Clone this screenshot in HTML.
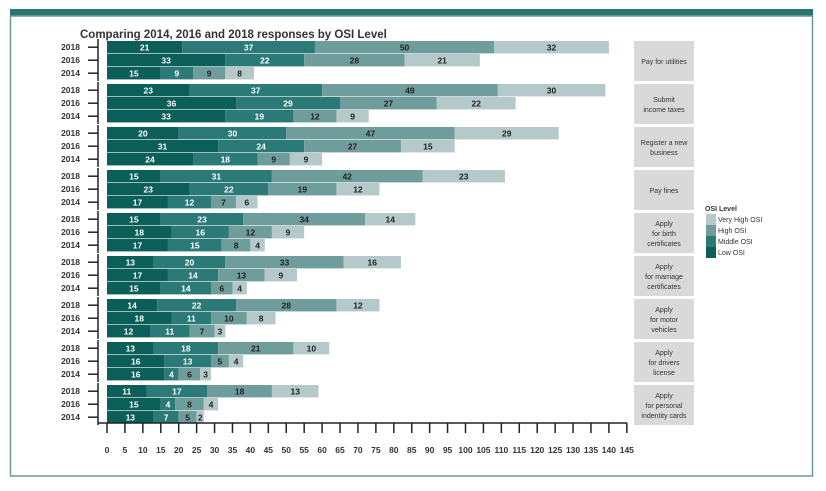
<!DOCTYPE html>
<html><head><meta charset="utf-8"><style>
body{margin:0;background:#fff;font-family:"Liberation Sans",sans-serif;}
svg text{font-family:"Liberation Sans",sans-serif;}
</style></head><body>
<svg width="826" height="486" viewBox="0 0 826 486">
<rect x="10" y="9" width="803" height="7" fill="#2a7470"/>
<rect x="10.5" y="16" width="802" height="460" fill="none" stroke="#6e9896" stroke-width="1.5"/>
<text x="80" y="38" font-size="11.5" font-weight="bold" fill="#333">Comparing 2014, 2016 and 2018 responses by OSI Level</text>
<g id="plot"></g>
<g id="legend">
<text x="705" y="211" font-size="7" font-weight="bold" fill="#333">OSI Level</text>
</g>
</svg>
<script>
const services=["Pay for utilities","Submit|income taxes","Register a new|business","Pay fines","Apply|for birth|certificates","Apply|for marriage|certificates","Apply|for motor|vehicles","Apply|for drivers|license","Apply|for personal|indentity cards"];
const years=["2018","2016","2014"];
const levels=["Low OSI","Middle OSI","High OSI","Very High OSI"];
const low=[[21,33,15],[23,36,33],[20,31,24],[15,23,17],[15,18,17],[13,17,15],[14,18,12],[13,16,16],[11,15,13]];
const mid=[[37,22,9],[37,29,19],[30,24,18],[31,22,12],[23,16,15],[20,14,14],[22,11,11],[18,13,4],[17,4,7]];
const high=[[50,28,9],[49,27,12],[47,27,9],[42,19,7],[34,12,8],[33,13,6],[28,10,7],[21,5,6],[18,8,5]];
const vhigh=[[32,21,8],[30,22,9],[29,15,9],[23,12,6],[14,9,4],[16,9,4],[12,8,3],[10,4,3],[13,4,2]];
const ticks=[0,5,10,15,20,25,30,35,40,45,50,55,60,65,70,75,80,85,90,95,100,105,110,115,120,125,130,135,140,145];
const colors=["#0b5f58","#2b7a77","#6f9d9c","#b5c8ca"];
const textCol=["#fff","#fff","#222","#222"];
const NS="http://www.w3.org/2000/svg";
const plot=document.getElementById('plot');
const x0=107,pxu=3.585,top0=41,gp=43,rp=13,bh=12.4;
const xs=v=>x0+v*pxu;
function mk(t,a,p){const e=document.createElementNS(NS,t);for(const k in a)e.setAttribute(k,a[k]);(p||plot).appendChild(e);return e;}
const series=[low,mid,high,vhigh];
services.forEach((s,g)=>{
  const gy=top0+g*gp;
  const ax=mk('line',{x1:98,x2:98,y1:gy-2,y2:gy+3*rp+1,stroke:'#222','stroke-width':1.5});
  
  
  years.forEach((yr,r)=>{
    const y=gy+r*rp;
    const t=mk('text',{x:80,y:y+bh/2+3,'font-size':8.5,'font-weight':'bold','text-anchor':'end',fill:'#333'});
    t.textContent=yr;
    
    
    const tk=mk('line',{x1:88,x2:98,y1:y+bh/2,y2:y+bh/2,stroke:'#222','stroke-width':1.5});
    
    
    let c=0;
    series.forEach((ser,l)=>{
      const v=ser[g][r];
      const rc=mk('rect',{x:xs(c),y:y,width:v*pxu,height:bh,fill:colors[l]});
      
      
      const lt=mk('text',{x:xs(c+v/2),y:y+bh/2+3.2,'font-size':8.5,'font-weight':'bold','text-anchor':'middle',fill:textCol[l]});
      lt.textContent=v;
      
      
      c+=v;
    });
  });
  const bx=mk('rect',{x:634,y:gy,width:60,height:40,fill:'#d9d9d9'});
  
  
  const lines=s.split('|');
  lines.forEach((ln,i)=>{
    const t=mk('text',{x:664,y:gy+20+(i-(lines.length-1)/2)*10+3,'font-size':7,'text-anchor':'middle',fill:'#333'});
    t.textContent=ln;
    
    
  });
});
const xa=mk('line',{x1:98,x2:627,y1:423,y2:423,stroke:'#222','stroke-width':1.5});


ticks.forEach(v=>{
  const l=mk('line',{x1:xs(v),x2:xs(v),y1:423,y2:433,stroke:'#222','stroke-width':1.5});
  
  
  const t=mk('text',{x:xs(v),y:453,'font-size':8.5,'font-weight':'bold','text-anchor':'middle',fill:'#333'});
  t.textContent=v;
  
  
});
const lg=document.getElementById('legend');
[3,2,1,0].forEach((l,i)=>{
  const y=214+i*11;
  const r=mk('rect',{x:706,y:y,width:10,height:11,fill:colors[l]},lg);
  
  
  const t=mk('text',{x:718,y:y+8,'font-size':7,fill:'#333'},lg);
  t.textContent=levels[l];
  
  
});
</script>
</body></html>
